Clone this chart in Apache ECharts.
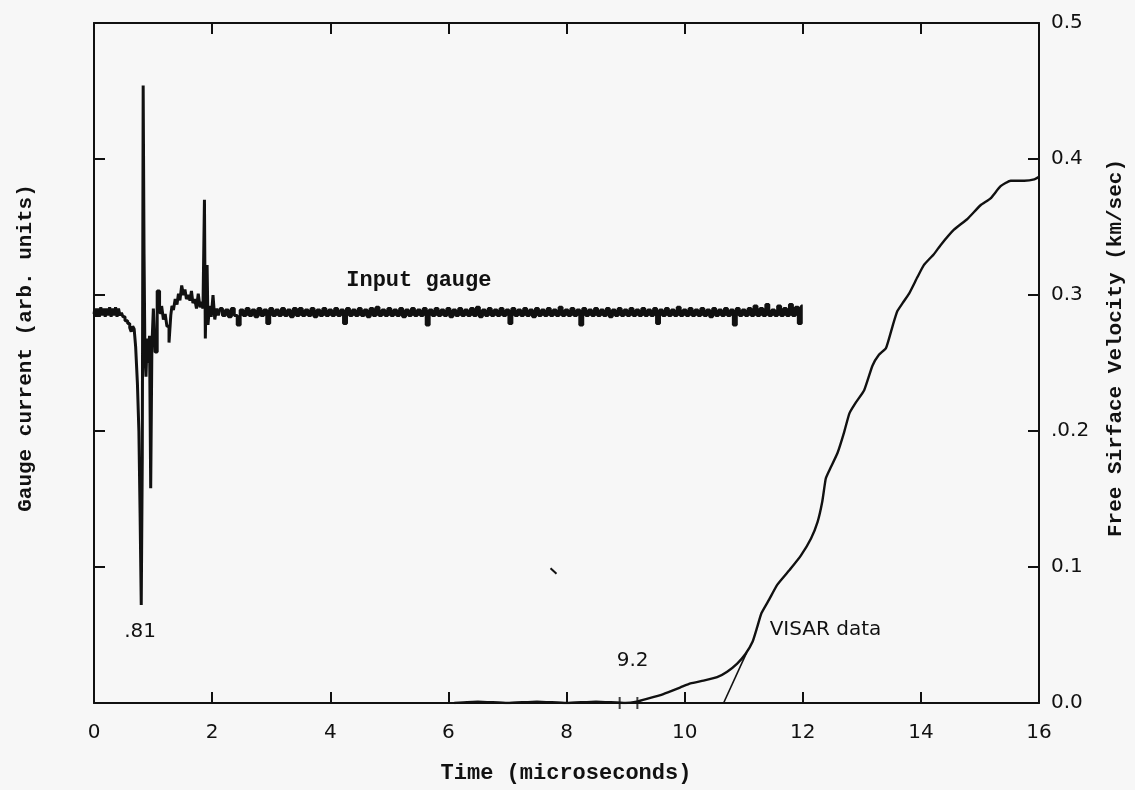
<!DOCTYPE html>
<html>
<head>
<meta charset="utf-8">
<style>
  html, body { margin: 0; padding: 0; background: #f7f7f7; }
  #chart { width: 1135px; height: 790px; }
</style>
<script src="https://cdn.jsdelivr.net/npm/echarts@6/dist/echarts.min.js"></script>
</head>
<body>
<div id="chart"></div>
<script>
// Time axis (microseconds)
const timeTicks = [0, 2, 4, 6, 8, 10, 12, 14, 16];
// Free surface velocity tick labels (km/sec), right axis
const velocityTickLabels = ['0.0', '0.1', '.0.2', '0.3', '0.4', '0.5'];

// Input gauge record, first 2.1 microseconds: [time, current]
const gaugeEarly = [
  [0.00,0.286],[0.03,0.290],[0.05,0.284],[0.08,0.290],[0.10,0.284],[0.13,0.291],[0.15,0.285],
  [0.18,0.290],[0.20,0.284],[0.23,0.290],[0.25,0.285],[0.28,0.291],[0.30,0.284],[0.33,0.290],
  [0.35,0.285],[0.38,0.291],[0.40,0.284],[0.43,0.290],[0.45,0.285],[0.48,0.287],[0.50,0.284],
  [0.55,0.281],[0.59,0.279],[0.62,0.276],[0.64,0.273],[0.67,0.277],[0.69,0.275],[0.72,0.262],
  [0.75,0.235],[0.77,0.200],[0.79,0.140],[0.81,0.072],[0.825,0.180],[0.84,0.454],[0.855,0.330],
  [0.87,0.255],[0.89,0.240],[0.91,0.268],[0.93,0.250],[0.95,0.270],[0.97,0.158],[0.99,0.262],
  [1.02,0.290],[1.05,0.258],[1.09,0.303],[1.13,0.287],[1.16,0.292],[1.19,0.282],[1.22,0.286],
  [1.25,0.277],[1.29,0.265],[1.31,0.285],[1.33,0.292],[1.36,0.289],[1.39,0.297],[1.42,0.293],
  [1.44,0.301],[1.47,0.296],[1.50,0.307],[1.53,0.300],[1.55,0.304],[1.58,0.297],[1.61,0.300],
  [1.64,0.296],[1.66,0.303],[1.69,0.294],[1.72,0.297],[1.75,0.290],[1.78,0.301],[1.81,0.291],
  [1.83,0.295],[1.86,0.290],[1.88,0.370],[1.89,0.268],[1.91,0.305],[1.92,0.322],[1.94,0.278],
  [1.97,0.292],[2.00,0.284],[2.03,0.300],[2.06,0.282],[2.09,0.290],[2.12,0.285]
];

// Input gauge record after the ring-down, sampled every 0.05 us from 2.15 us
const gaugeTailStart = 2.15;
const gaugeTailStep = 0.05;
const gaugeTail = [
  0.290,0.285,0.289,0.284,0.290,0.285,0.278,0.289,0.285,0.290,0.285,0.289,0.284,0.290,0.285,0.289,0.279,0.290,0.285,0.289,
  0.285,0.290,0.285,0.289,0.284,0.290,0.285,0.290,0.285,0.289,0.285,0.290,0.284,0.289,0.285,0.290,0.285,0.289,0.285,0.290,
  0.285,0.289,0.279,0.290,0.285,0.289,0.285,0.290,0.285,0.289,0.284,0.290,0.285,0.291,0.285,0.289,0.285,0.290,0.285,0.289,
  0.285,0.290,0.284,0.289,0.285,0.290,0.285,0.289,0.285,0.290,0.278,0.289,0.285,0.290,0.285,0.289,0.285,0.290,0.284,0.289,
  0.285,0.290,0.285,0.289,0.285,0.290,0.285,0.291,0.284,0.289,0.285,0.290,0.285,0.289,0.285,0.290,0.285,0.289,0.279,0.290,
  0.285,0.289,0.285,0.290,0.285,0.289,0.284,0.290,0.285,0.289,0.285,0.290,0.285,0.289,0.285,0.291,0.285,0.289,0.285,0.290,
  0.285,0.289,0.278,0.290,0.285,0.289,0.285,0.290,0.285,0.289,0.285,0.290,0.284,0.289,0.285,0.290,0.285,0.289,0.285,0.290,
  0.285,0.289,0.285,0.290,0.285,0.289,0.285,0.290,0.279,0.289,0.285,0.290,0.285,0.289,0.285,0.291,0.285,0.289,0.285,0.290,
  0.285,0.289,0.285,0.290,0.285,0.289,0.284,0.290,0.285,0.289,0.285,0.290,0.285,0.289,0.278,0.290,0.285,0.289,0.285,0.290,
  0.285,0.292,0.285,0.290,0.285,0.293,0.285,0.289,0.285,0.292,0.285,0.290,0.285,0.293,0.285,0.291,0.279,0.292
];

// VISAR free surface velocity: [time, km/sec]
const visar = [
  [6.10,0.000],[6.50,0.001],[7.00,0.000],[7.50,0.001],[8.00,0.000],[8.50,0.001],[9.00,0.000],
  [9.19,0.001],[9.36,0.003],[9.64,0.0066],[9.93,0.0115],[10.10,0.0144],[10.32,0.0164],[10.55,0.019],
  [10.72,0.023],[10.89,0.029],[11.03,0.036],[11.15,0.045],[11.23,0.056],[11.30,0.066],[11.43,0.076],
  [11.57,0.087],[11.80,0.099],[11.97,0.1085],[12.14,0.121],[12.25,0.133],[12.33,0.148],[12.39,0.165],
  [12.45,0.171],[12.59,0.184],[12.70,0.199],[12.79,0.213],[12.90,0.221],[13.04,0.230],[13.18,0.248],
  [13.29,0.256],[13.41,0.261],[13.52,0.277],[13.60,0.288],[13.69,0.294],[13.80,0.301],[13.94,0.313],
  [14.05,0.322],[14.22,0.330],[14.34,0.337],[14.56,0.348],[14.79,0.356],[15.01,0.366],[15.18,0.371],
  [15.35,0.380],[15.52,0.384],[15.75,0.384],[15.92,0.385],[16.00,0.387]
];

// Extrapolated rise line back to the baseline
const riseLine = [[10.66, 0.000], [11.05, 0.037]];
// Arrival markers on the time axis
const arrivalMarks = [[8.90, 0.0], [9.20, 0.0]];
// Stray pen mark
const strayMark = [[7.73, 0.099], [7.83, 0.095]];

// Annotation texts, anchored in data coordinates
const onsetTime = 9.2;
const notes = [
  { text: 'Input gauge', t: 5.5, v: 0.311, axis: 0, align: 'center', font: 'mono' },
  { text: '.81', t: 0.78, v: 0.052, axis: 0, align: 'center', font: 'sans' },
  { text: String(onsetTime), t: 9.12, v: 0.031, axis: 1, align: 'center', font: 'sans' },
  { text: 'VISAR data', t: 11.44, v: 0.054, axis: 1, align: 'left', font: 'sans' }
];

const ink = '#111111';
const monoFont = '"Liberation Mono", "DejaVu Sans Mono", monospace';
const sansFont = '"DejaVu Sans", "Liberation Sans", sans-serif';

const gaugeData = gaugeEarly.concat(
  gaugeTail.map((v, i) => [+(gaugeTailStart + i * gaugeTailStep).toFixed(2), v])
);

const chart = echarts.init(document.getElementById('chart'), null, { renderer: 'canvas' });

const xBase = {
  type: 'value', min: 0, max: 16, interval: 2,
  axisLine: { show: true, onZero: false, lineStyle: { color: ink, width: 2 } },
  axisTick: { show: true, inside: true, length: 11, lineStyle: { color: ink, width: 2 } },
  splitLine: { show: false }
};
const yBase = {
  type: 'value', min: 0, max: 0.5, interval: 0.1,
  axisLine: { show: true, onZero: false, lineStyle: { color: ink, width: 2 } },
  axisTick: { show: true, inside: true, length: 11, lineStyle: { color: ink, width: 2 } },
  splitLine: { show: false }
};

chart.setOption({
  backgroundColor: '#f7f7f7',
  animation: false,
  grid: { left: 94, right: 96, top: 23, bottom: 87, containLabel: false },
  xAxis: [
    Object.assign({}, xBase, {
      position: 'bottom',
      axisLabel: {
        show: true, margin: 20, color: ink, fontSize: 20, fontFamily: sansFont,
        formatter: v => (timeTicks.includes(v) ? String(v) : '')
      }
    }),
    Object.assign({}, xBase, { position: 'top', axisLabel: { show: false } })
  ],
  yAxis: [
    Object.assign({}, yBase, { position: 'left', axisLabel: { show: false } }),
    Object.assign({}, yBase, {
      position: 'right',
      axisLabel: {
        show: true, margin: 12, color: ink, fontSize: 20, fontFamily: sansFont,
        formatter: v => velocityTickLabels[Math.round(v * 10)]
      }
    })
  ],
  series: [
    {
      name: 'Input gauge', type: 'line', xAxisIndex: 0, yAxisIndex: 0,
      data: gaugeData, showSymbol: false, silent: true, step: 'middle',
      lineStyle: { color: ink, width: 3 }
    },
    {
      name: 'VISAR data', type: 'line', xAxisIndex: 0, yAxisIndex: 1,
      data: visar, showSymbol: false, silent: true, smooth: 0.15,
      lineStyle: { color: ink, width: 2.4 }
    },
    {
      name: 'rise', type: 'line', xAxisIndex: 0, yAxisIndex: 1,
      data: riseLine, showSymbol: false, silent: true,
      lineStyle: { color: ink, width: 1.6 }
    },
    {
      name: 'stray', type: 'line', xAxisIndex: 0, yAxisIndex: 1,
      data: strayMark, showSymbol: false, silent: true,
      lineStyle: { color: ink, width: 2 }
    },
    {
      name: 'arrivals', type: 'scatter', xAxisIndex: 0, yAxisIndex: 1,
      data: arrivalMarks, symbol: 'rect', symbolSize: [2, 12], silent: true,
      itemStyle: { color: ink }
    }
  ]
});

// Titles and annotations are placed as text graphics; annotation anchors
// go through the axes' own scales.
const titleStyle = (size) => ({
  fill: ink, font: 'bold ' + size + 'px ' + monoFont,
  align: 'center', verticalAlign: 'middle'
});
const gridRect = chart.getModel().getComponent('grid', 0).coordinateSystem.getRect();
const midY = gridRect.y + gridRect.height / 2 - 15;

const graphics = [
  { type: 'text', x: 566, y: 773, style: Object.assign({ text: 'Time (microseconds)' }, titleStyle(22)) },
  { type: 'text', x: 26, y: midY, rotation: Math.PI / 2,
    style: Object.assign({ text: 'Gauge current (arb. units)' }, titleStyle(21)) },
  { type: 'text', x: 1116, y: midY, rotation: Math.PI / 2,
    style: Object.assign({ text: 'Free Sirface Velocity (km/sec)' }, titleStyle(21)) }
];

notes.forEach(n => {
  const p = chart.convertToPixel({ xAxisIndex: 0, yAxisIndex: n.axis }, [n.t, n.v]);
  const mono = n.font === 'mono';
  graphics.push({
    type: 'text', x: p[0], y: p[1], silent: true,
    style: {
      text: n.text, fill: ink,
      font: (mono ? 'bold 22px ' + monoFont : '20px ' + sansFont),
      align: n.align, verticalAlign: 'middle'
    }
  });
});

chart.setOption({ graphic: graphics });
</script>
</body>
</html>
